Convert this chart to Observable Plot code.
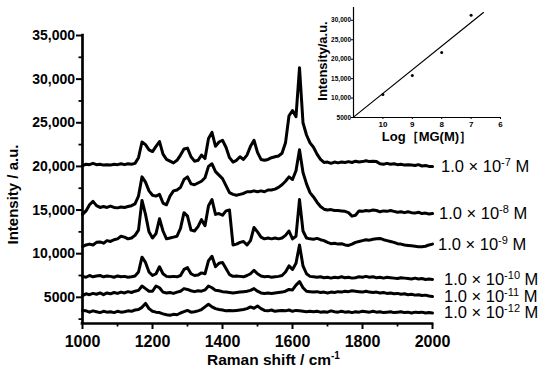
<!DOCTYPE html>
<html><head><meta charset="utf-8">
<script src="https://cdn.jsdelivr.net/npm/d3@7"></script>
<script src="https://cdn.jsdelivr.net/npm/@observablehq/plot@0.6"></script>
<style>
body{margin:0;background:#fff;}
#wrap{position:relative;width:550px;height:374px;}
#wrap svg{position:absolute;}
</style></head><body><div id="wrap"></div>
<script>
// ---------- data ----------
const ramanShift = d3.range(1000, 2001, 10); // cm^-1 sampling grid

const s1e7 = [20100,20250,20200,20350,20200,20250,20150,20200,20150,20250,
  20200,20300,20200,20300,20250,20350,21000,22800,22500,21900,
  21700,22300,22850,21400,20800,20600,20400,20700,21300,22000,
  22100,21100,20600,20700,21300,20900,23200,23900,22300,22800,
  23000,22200,21000,20500,20700,21100,20800,21300,22300,23000,
  21600,20800,20700,20800,21000,21100,21200,21500,22700,25800,
  26400,25700,31300,25000,23600,22700,22200,21400,20800,20450,
  20500,20350,20500,20400,20500,20450,20550,20450,20600,20500,
  20550,20650,20550,20600,20550,20300,20250,20350,20250,20300,
  20200,20250,20150,20200,20150,20100,20200,20050,20100,20000,
  20000];
const s1e8 = [14500,14900,15600,16000,15500,15300,15400,15300,15450,15300,
  15250,15350,15300,15400,15500,15700,16600,18800,18200,17200,
  16700,16600,16800,15800,15600,16600,17200,17300,17600,18500,
  18800,18000,17900,18100,18300,18700,20000,20300,19400,19000,
  18600,17800,17000,16800,16700,16800,16900,17100,17100,17200,
  17100,17200,17100,17300,17300,17400,17600,17900,18300,18800,
  18500,19500,21900,19300,18000,17000,16500,15900,15400,15100,
  15000,15050,14950,14950,14900,14850,14700,14300,14400,14900,
  14850,14950,14900,15000,14950,14800,14900,14850,14950,14850,
  14750,14800,14700,14800,14700,14650,14750,14600,14650,14550,
  14600];
const s1e9 = [10800,11000,11100,11000,11300,11350,11200,11500,11400,11600,
  11700,12000,11900,11700,11800,12100,12700,16100,14500,12500,
  11800,12300,14000,12600,11700,11800,11900,12000,12900,14700,
  14300,12700,12600,13100,13900,13200,15500,16200,14500,14600,
  14400,14900,15000,11000,11100,11300,11400,11000,11500,13000,
  12500,11900,11700,11800,11700,11800,11700,11800,12100,12600,
  11700,12000,16200,12600,11800,11700,11650,11750,11600,11500,
  11300,11150,11200,11100,11150,11000,10950,11100,11300,11400,
  11500,11600,11550,11650,11700,11750,11600,11500,11400,11300,
  11150,11100,11000,10950,10900,10850,10800,10800,10850,11000,
  11100];
const s1e10 = [7400,7300,7500,7350,7450,7500,7350,7450,7400,7300,
  7450,7350,7400,7300,7350,7450,7900,9600,9000,7900,
  7500,7700,8500,7700,7400,7350,7400,7350,7500,8200,
  8400,7700,7500,7550,7800,7700,9200,9700,8500,8900,
  9000,8300,7600,7400,7450,7400,7350,7500,7700,8100,
  7700,7450,7350,7400,7300,7350,7400,7500,7900,8600,
  8200,8900,11000,8600,7700,7400,7350,7300,7350,7250,
  7300,7200,7300,7250,7350,7250,7300,7200,7250,7350,
  7300,7400,7300,7350,7250,7300,7200,7300,7250,7200,
  7150,7250,7200,7150,7100,7200,7100,7150,7050,7100,
  7050];
const s1e11 = [5200,5400,5300,5450,5350,5500,5300,5500,5400,5550,
  5450,5600,5500,5650,5550,5700,5800,6300,6000,5700,
  5700,6300,6100,5600,5500,5550,5450,5600,5700,6000,
  5900,5750,5650,5750,5700,5850,6300,6100,5800,5750,
  5650,5600,5550,5500,5550,5600,5650,5700,5800,6000,
  5700,5500,5450,5500,5450,5500,5550,5600,5700,5900,
  5850,6400,6800,6100,5700,5650,5600,5650,5550,5600,
  5500,5600,5550,5650,5600,5700,5650,5750,5700,5650,
  5600,5700,5600,5550,5600,5500,5550,5450,5500,5400,
  5450,5350,5400,5300,5350,5250,5300,5200,5250,5150,
  5100];
const s1e12 = [3500,3450,3300,3450,3350,3250,3400,3300,3350,3250,
  3400,3300,3350,3450,3400,3550,3600,3850,4300,3700,
  3400,3300,3250,3100,3000,2950,3050,3000,3200,3350,
  3500,3300,3350,3450,3600,3900,4200,3900,3700,3600,
  3550,3450,3500,3450,3500,3550,3600,3700,3900,3750,
  4000,3700,3500,3450,3550,3400,3450,3500,3450,3550,
  3400,3500,3450,3400,3350,3400,3350,3400,3300,3350,
  3300,3450,3350,3300,3400,3300,3350,3250,3350,3300,
  3400,3350,3300,3400,3300,3350,3250,3300,3350,3250,
  3300,3350,3250,3300,3200,3300,3250,3300,3200,3250,
  3200];

const seriesValues = [s1e7, s1e8, s1e9, s1e10, s1e11, s1e12];
const exponents = ["-7", "-8", "-9", "-10", "-11", "-12"];

const xTickValues = [1000, 1200, 1400, 1600, 1800, 2000];
const xMinorTicks = [1100, 1300, 1500, 1700, 1900];
const yTickValues = [5000, 10000, 15000, 20000, 25000, 30000, 35000];
const yTickLabels = ["5000", "10,000", "15,000", "20,000", "25,000", "30,000", "35,000"];
const yMinorTicks = [2500, 7500, 12500, 17500, 22500, 27500, 32500];

// inset
const logConc = [10, 9, 8, 7];
const peakIntensity = [10900, 15800, 21700, 31300];
const fitLog = [11, 6.58];
const fitIntensity = [5100, 32000];
const insetXTicks = [10, 9, 8, 7, 6];
const insetYTicks = [5000, 10000, 15000, 20000, 25000, 30000];
const insetYLabels = ["5000", "10,000", "15,000", "20,000", "25,000", "30,000"];

// ---------- build ----------
const spectra = [];
seriesValues.forEach((vals, k) => vals.forEach((v, i) => spectra.push({shift: ramanShift[i], intensity: v, conc: exponents[k]})));

const FONT = "'Liberation Sans', Arial, Helvetica, sans-serif";

const main = Plot.plot({
  width: 550, height: 374,
  marginLeft: 82, marginRight: 118, marginTop: 35, marginBottom: 51,
  x: {domain: [1000, 2000]},
  y: {domain: [2000, 35000]},
  style: {fontFamily: FONT, background: "white", color: "black"},
  marks: [
    Plot.axisY(yTickValues, {tickSize: 6, tickPadding: 1.5, strokeWidth: 2,
      tickFormat: d => yTickLabels[yTickValues.indexOf(d)], fontSize: 14, fontWeight: "bold", label: null}),
    Plot.axisY(yMinorTicks, {tickSize: 3.5, strokeWidth: 1.8, tickFormat: () => "", label: null}),
    Plot.axisX(xTickValues, {tickSize: 6, tickPadding: 6, strokeWidth: 2,
      tickFormat: d => String(d), fontSize: 16, fontWeight: "bold", label: null}),
    Plot.axisX(xMinorTicks, {tickSize: 3.5, strokeWidth: 1.8, tickFormat: () => "", label: null}),
    Plot.line(spectra, {x: "shift", y: "intensity", z: "conc", stroke: "black", strokeWidth: 3, strokeLinejoin: "round"}),
    Plot.ruleX([1000], {y1: 2000, y2: 35000, strokeWidth: 2.7, strokeLinecap: "square"}),
    Plot.ruleY([2000], {x1: 1000, x2: 2000, strokeWidth: 2.7, strokeLinecap: "square"})
  ]
});
main.style.left = "0px"; main.style.top = "0px";
document.getElementById("wrap").appendChild(main);

const sx = main.scale("x"), sy = main.scale("y");
const msvg = d3.select(main);
const labelDx = [9, 7, 6, 12, 12, 12];
seriesValues.forEach((vals, k) => {
  const t = msvg.append("text")
    .attr("x", sx.apply(2000) + labelDx[k])
    .attr("y", sy.apply(vals[vals.length - 1]))
    .attr("dy", "0.36em").attr("text-anchor", "start")
    .style("font-family", FONT).style("font-size", "16.5px").attr("fill", "black");
  t.append("tspan").text("1.0 \u00d7 10");
  t.append("tspan").attr("dy", -6).style("font-size", "11px").text(exponents[k]);
  t.append("tspan").attr("dy", 6).text(" M");
});
// axis titles
msvg.append("text")
  .attr("transform", "translate(12.5,194.5) rotate(-90)")
  .attr("text-anchor", "middle").attr("dy", "0.35em")
  .style("font-family", FONT).style("font-size", "15px").style("font-weight", "bold")
  .text("Intensity / a.u.");
const xt = msvg.append("text").attr("x", 207).attr("y", 365).attr("text-anchor", "start")
  .style("font-family", FONT).style("font-size", "15.5px").style("font-weight", "bold");
xt.append("tspan").text("Raman shift / cm");
xt.append("tspan").attr("dy", -6).style("font-size", "10px").text("-1");

// ---------- inset ----------
const points = logConc.map((d, i) => ({log: d, intensity: peakIntensity[i]}));
const fit = fitLog.map((d, i) => ({log: d, intensity: fitIntensity[i]}));
const inset = Plot.plot({
  width: 250, height: 145,
  marginLeft: 53, marginRight: 50, marginTop: 7, marginBottom: 28,
  x: {domain: [11, 6]},
  y: {domain: [5000, 33300]},
  style: {fontFamily: FONT, background: "transparent", color: "black"},
  marks: [
    Plot.axisY(insetYTicks, {tickSize: 2, tickPadding: 0.5, strokeWidth: 1,
      tickFormat: d => insetYLabels[insetYTicks.indexOf(d)], fontSize: 6.5, fontWeight: "bold", label: null}),
    Plot.axisX(insetXTicks, {tickSize: 2, tickPadding: 2, strokeWidth: 1,
      tickFormat: d => String(d), fontSize: 8, fontWeight: "bold", label: null}),
    Plot.ruleX([11], {y1: 5000, y2: 33300, strokeWidth: 1.2}),
    Plot.ruleY([5000], {x1: 11, x2: 6, strokeWidth: 1.2}),
    Plot.line(fit, {x: "log", y: "intensity", stroke: "black", strokeWidth: 1.2}),
    Plot.dot(points, {x: "log", y: "intensity", r: 1.5, fill: "black", stroke: null})
  ]
});
inset.style.left = "300px"; inset.style.top = "0px";
document.getElementById("wrap").appendChild(inset);
const isvg = d3.select(inset);
isvg.append("text")
  .attr("transform", "translate(22,61) rotate(-90)")
  .attr("text-anchor", "middle").attr("dy", "0.35em")
  .style("font-family", FONT).style("font-size", "13px").style("font-weight", "bold")
  .text("Intensity/a.u.");
isvg.append("text")
  .attr("x", 127).attr("y", 136.5).attr("text-anchor", "middle").attr("dy", "0.35em")
  .style("font-family", FONT).style("font-size", "13px").style("font-weight", "bold")
  .text("Log\uFF3BMG(M)\uFF3D");
</script></body></html>
